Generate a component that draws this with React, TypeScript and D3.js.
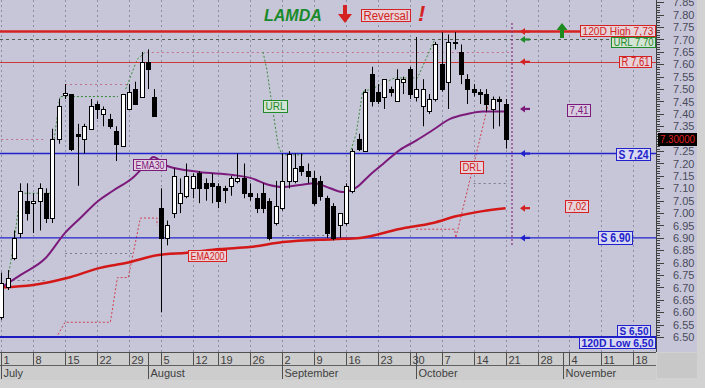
import React from "react";
import * as d3 from "d3";

// ---------- DATA ----------
// trading-day index 0 = 1 July 2019
const opens = [6.58,6.70,6.82,6.92,7.05,7.04,7.05,7.08,6.98,7.30,7.475,7.48,7.32,7.30,7.34,7.44,7.40,7.38,7.33,7.27,7.42,7.50,7.47,7.61,7.47,
  7.02,6.90,7.00,7.04,7.07,7.10,7.16,7.12,7.12,7.11,7.10,7.11,7.13,7.14,7.08,7.06,7.08,7.05,6.96,7.02,7.13,7.13,7.19,7.17,7.14,7.13,7.06,7.03,6.95,6.96,
  7.09,7.30,7.25,7.56,7.49,7.47,7.50,7.45,7.53,7.58,7.47,7.43,7.41,7.46,7.60,7.53,7.69,7.65,7.54,7.50,7.49,7.48,7.42,7.46,7.44];
const highs = [6.76,6.77,6.93,7.12,7.12,7.08,7.12,7.10,7.34,7.46,7.52,7.48,7.36,7.36,7.46,7.45,7.43,7.40,7.35,7.48,7.52,7.53,7.65,7.66,7.50,
  7.10,6.97,7.18,7.14,7.20,7.16,7.17,7.14,7.16,7.12,7.11,7.15,7.24,7.20,7.12,7.08,7.12,7.06,7.13,7.24,7.25,7.24,7.24,7.20,7.17,7.15,7.07,7.04,7.00,7.12,
  7.26,7.32,7.50,7.59,7.52,7.54,7.51,7.58,7.55,7.59,7.71,7.54,7.48,7.69,7.73,7.72,7.73,7.68,7.56,7.52,7.50,7.50,7.47,7.47,7.46];
const lows = [6.57,6.69,6.81,6.90,6.97,6.92,6.93,6.96,6.96,7.28,7.46,7.25,7.11,7.24,7.34,7.38,7.35,7.34,7.21,7.27,7.42,7.44,7.47,7.50,7.39,
  6.60,6.87,6.98,7.00,7.06,7.06,7.04,7.05,7.04,7.02,7.04,7.07,7.12,7.06,7.05,7.00,7.00,6.89,6.95,7.01,7.10,7.12,7.15,7.12,7.03,7.05,6.90,6.89,6.90,6.95,
  7.08,7.25,7.25,7.43,7.44,7.42,7.47,7.45,7.48,7.46,7.45,7.35,7.40,7.45,7.49,7.42,7.66,7.52,7.44,7.47,7.44,7.41,7.34,7.35,7.26];
const closes = [6.72,6.74,6.90,7.09,7.00,7.05,7.10,6.98,7.30,7.43,7.485,7.26,7.31,7.35,7.43,7.42,7.42,7.35,7.28,7.48,7.49,7.44,7.61,7.58,7.39,
  6.90,6.95,7.15,7.08,7.15,7.15,7.10,7.10,7.11,7.05,7.095,7.14,7.14,7.08,7.07,7.02,7.02,6.90,7.03,7.13,7.24,7.18,7.17,7.15,7.04,7.07,6.92,6.90,7.00,7.11,
  7.25,7.26,7.49,7.45,7.45,7.54,7.49,7.54,7.54,7.48,7.50,7.50,7.46,7.68,7.50,7.69,7.69,7.56,7.50,7.49,7.48,7.44,7.46,7.45,7.30];

const ema30Idx = [0,3,7,10,12.4,15,17.5,20.7,23,23.8,26,31,36.3,39,42,44,46.8,49.1,51.5,53.5,55.7,57.7,59.8,62.4,65.1,67.6,70.3,73,75.4,79];
const ema30Val = [6.70,6.75,6.82,6.92,6.98,7.045,7.09,7.145,7.206,7.226,7.19,7.166,7.154,7.142,7.113,7.105,7.113,7.12,7.10,7.085,7.105,7.153,7.198,7.254,7.294,7.335,7.38,7.40,7.41,7.41];
const ema200Idx = [0,5,10.3,15.5,19.7,24.4,29.1,34.3,39,44.1,52,56.2,62.4,67.6,71.4,75.4,79];
const ema200Val = [6.70,6.71,6.738,6.779,6.80,6.83,6.84,6.855,6.863,6.883,6.895,6.90,6.936,6.96,6.988,7.008,7.02];

const urlPathA = [[1,6.73],[2,6.88],[3,7.08],[7.7,7.08],[8.3,7.30],[9.2,7.47],[18.3,7.47]];
const urlPathB = [[19.5,7.50],[21.3,7.62],[22.6,7.65]];
const urlPathC = [[41,7.65],[41.6,7.58],[42.5,7.42],[43.4,7.27],[44,7.235],[47.5,7.235]];
const urlPathD = [[54.6,7.24],[55.6,7.32],[56.6,7.49],[58,7.50],[61.6,7.545],[65.2,7.545],[66.5,7.62],[67.9,7.70]];
const drlPathA = [[8.9,6.51],[10,6.56],[17.1,6.56],[18.2,6.74],[19.9,6.74],[21.8,6.98],[24.4,6.98],[24.4,6.95]];
const drlPathB = [[65,6.935],[71,6.935],[71.2,6.90],[76.2,7.43]];
const pinkDotStart = [0,10,22.8];
const pinkDotEnd = [7,20,80];
const pinkDotVal = [7.30,7.52,7.65];
const grayDotStart = [1,10,44,74];
const grayDotEnd = [7,20.5,52,79.5];
const grayDotVal = [6.73,6.84,6.91,7.12];

const tickIdx = [0,5,10,15,20,25,30,34,39,44,49,54,59,64,69,74,79,84,89,94,99];
const tickLabels = ["1","8","15","22","29","5","12","19","26","2","9","16","23","30","7","14","21","28","4","11","18"];
const monthIdx = [0,23,44,65,88];
const monthLabels = ["July","August","September","October","November"];
const priceTickLabels = ["7.85","7.80","7.75","7.70","7.65","7.60","7.55","7.50","7.45","7.40","7.35","7.30","7.25","7.20","7.15","7.10","7.05","7.00","6.95","6.90","6.85","6.80","6.75","6.70","6.65","6.60","6.55","6.50"];
const minorTickVals = d3.range(650, 786).map((v) => v / 100);

const lastPrice = 7.30;
const todayIdx = 80;

// ---------- LAYOUT ----------
const W = 705, H = 388;
const PR = 656; // plot right
const PB = 352; // plot bottom
const FONT = "'Liberation Sans', Arial, sans-serif";

const x = d3.scaleLinear().domain([0, 100]).range([1.2, 639.7]);
const y = d3.scaleLinear().domain([7.85, 6.5]).range([2.3, 337.1]);

const RED = "#d42222";
const BLUE = "#2222cc";
const GREEN = "#1f8a2a";
const PURPLE = "#7c1a7c";

const lineGen = d3.line<number[]>().x((d) => x(d[0])).y((d) => y(d[1]));
const curveGen = d3.line<number[]>().x((d) => x(d[0])).y((d) => y(d[1])).curve(d3.curveMonotoneX);

function LabelBox({ x0, x1, cy, h = 12, text, color, fill, bold = false, size = 11 }: any) {
  const top = Math.round(cy - h / 2);
  return (
    <g>
      <rect x={x0 + 0.5} y={top + 0.5} width={x1 - x0 - 1} height={h - 1} fill={fill} stroke={color} strokeWidth={1} />
      <text x={(x0 + x1) / 2} y={top + h / 2 + size * 0.36} textAnchor="middle" fontFamily={FONT} fontSize={size}
        fontWeight={bold ? "bold" : "normal"} fill={color} textLength={x1 - x0 - 5} lengthAdjust="spacingAndGlyphs">{text}</text>
    </g>
  );
}

function LeftArrow({ cx, cy, color }: any) {
  return (
    <g>
      <line x1={cx - 2} x2={cx + 5} y1={cy} y2={cy} stroke={color} strokeWidth={2.2} />
      <path d={`M${cx - 5},${cy} L${cx},${cy - 3.5} L${cx},${cy + 3.5} Z`} fill={color} />
    </g>
  );
}

export default function App() {
  const n = closes.length;
  const candles = d3.range(n).map((i) => {
    const r = Math.round(x(i));
    const o = opens[i], c = closes[i];
    const up = c >= o;
    const yTop = Math.round(y(Math.max(o, c)));
    const yBot = Math.round(y(Math.min(o, c)));
    const hgt = Math.max(1, yBot - yTop);
    return (
      <g key={i}>
        <line x1={r + 0.5} x2={r + 0.5} y1={y(highs[i])} y2={y(lows[i])} stroke="#000" strokeWidth={1} />
        <rect x={r - 1.5} y={yTop + 0.5} width={4} height={hgt} fill={up ? "#fff" : "#000"} stroke="#000" strokeWidth={1} />
      </g>
    );
  });

  const ema30 = ema30Idx.map((v, i) => [v, ema30Val[i]]);
  const ema200 = ema200Idx.map((v, i) => [v, ema200Val[i]]);
  const lastLabel = lastPrice.toFixed(2);

  return (
    <svg width={W} height={H} style={{ position: "absolute", left: 0, top: 0, display: "block" }} xmlns="http://www.w3.org/2000/svg">
      <defs>
        <clipPath id="plot"><rect x={0} y={0} width={PR} height={PB} /></clipPath>
      </defs>
      <rect x={0} y={0} width={W} height={H} fill="#d2d2d2" />
      <rect x={0} y={0} width={697} height={PB} fill="#c6c6d8" />
      <rect x={0} y={PB} width={PR} height={28} fill="#cdcdcd" />
      <rect x={657} y={353} width={40} height={25} fill="#c8c8c8" />

      {/* vertical grid */}
      {tickIdx.map((t, k) => (
        <line key={k} x1={Math.round(x(t)) + 0.5} x2={Math.round(x(t)) + 0.5} y1={0} y2={PB} stroke="#8f8fa3" strokeWidth={1} strokeDasharray="2,3" />
      ))}

      <g clipPath="url(#plot)">
        {/* dotted level segments */}
        {pinkDotVal.map((v, k) => (
          <line key={"p" + k} x1={x(pinkDotStart[k])} x2={x(pinkDotEnd[k])} y1={Math.round(y(v)) + 0.5} y2={Math.round(y(v)) + 0.5} stroke="#c0708c" strokeWidth={1} strokeDasharray="2,3" />
        ))}
        {grayDotVal.map((v, k) => (
          <line key={"g" + k} x1={x(grayDotStart[k])} x2={x(grayDotEnd[k])} y1={Math.round(y(v)) + 0.5} y2={Math.round(y(v)) + 0.5} stroke="#7a7a8a" strokeWidth={1} strokeDasharray="2,3" />
        ))}
        {[drlPathA, drlPathB].map((p, k) => (
          <path key={"d" + k} d={lineGen(p as any) || ""} fill="none" stroke="#d04050" strokeWidth={1} strokeDasharray="2,2" />
        ))}
        {[urlPathA, urlPathB, urlPathC, urlPathD].map((p, k) => (
          <path key={"u" + k} d={lineGen(p as any) || ""} fill="none" stroke="#3a8a3a" strokeWidth={1} strokeDasharray="2,2" />
        ))}

        {/* horizontal levels */}
        <line x1={0} x2={PR} y1={y(7.70)} y2={y(7.70)} stroke="#4f5f4f" strokeWidth={1} strokeDasharray="3,3" />
        <line x1={0} x2={PR} y1={y(7.73) - 0.5} y2={y(7.73) - 0.5} stroke={RED} strokeWidth={2.5} />
        <line x1={0} x2={PR} y1={Math.round(y(7.61)) + 0.5} y2={Math.round(y(7.61)) + 0.5} stroke="#d03838" strokeWidth={1.2} />
        <line x1={0} x2={PR} y1={y(7.24)} y2={y(7.24)} stroke={BLUE} strokeWidth={1.5} />
        <line x1={0} x2={PR} y1={y(6.90)} y2={y(6.90)} stroke={BLUE} strokeWidth={1.3} />
        <line x1={0} x2={PR} y1={y(6.50)} y2={y(6.50)} stroke="#1c1cc0" strokeWidth={2} />

        {/* today marker */}
        <line x1={x(todayIdx)} x2={x(todayIdx)} y1={23} y2={245} stroke="#8a3a8a" strokeWidth={1.3} strokeDasharray="2,2" />

        {/* EMAs */}
        <path d={curveGen(ema200 as any) || ""} fill="none" stroke="#d41818" strokeWidth={2.5} />
        <path d={curveGen(ema30 as any) || ""} fill="none" stroke={PURPLE} strokeWidth={2} />

        {candles}
      </g>

      {/* arrows */}
      <LeftArrow cx={525} cy={y(7.73) - 0.5} color={RED} />
      <LeftArrow cx={525} cy={y(7.70)} color={GREEN} />
      <LeftArrow cx={525} cy={y(7.61)} color={RED} />
      <LeftArrow cx={525} cy={y(7.42)} color={PURPLE} />
      <LeftArrow cx={525} cy={y(7.24)} color={BLUE} />
      <LeftArrow cx={525} cy={y(7.02)} color={RED} />
      <LeftArrow cx={525} cy={y(6.90)} color={BLUE} />

      {/* green up arrow */}
      <path d="M562,23 L567.5,30 L564,30 L564,38 L560,38 L560,30 L556.5,30 Z" fill="#1c8a1c" />

      {/* level labels */}
      <LabelBox x0={580} x1={656} cy={31} h={12} text="120D High 7,73" color={RED} fill="#e6d2d8" size={11} />
      <LabelBox x0={611} x1={656} cy={42} h={11} text="URL 7.70" color={GREEN} fill="#d4e4d4" size={10} />
      <LabelBox x0={619} x1={652} cy={62} h={12} text="R 7,61" color={RED} fill="#e6d2d8" size={12} />
      <LabelBox x0={567} x1={591} cy={110} h={13} text="7,41" color={PURPLE} fill="#d8cce0" size={11} />
      <LabelBox x0={616} x1={651} cy={154.5} h={13} text="S 7,24" color={BLUE} fill="#d8d8f0" bold size={12} />
      <LabelBox x0={565} x1={589} cy={206.5} h={13} text="7,02" color={RED} fill="#e6d2d8" size={11} />
      <LabelBox x0={598} x1={633} cy={237.5} h={14} text="S 6.90" color={BLUE} fill="#d8d8f0" bold size={12} />
      <LabelBox x0={617} x1={651} cy={331} h={12} text="S 6,50" color={BLUE} fill="#d8d8f0" bold size={11} />
      <LabelBox x0={579} x1={656} cy={343} h={12} text="120D Low 6,50" color={BLUE} fill="#d8d8f0" bold size={11} />

      {/* indicator labels */}
      <LabelBox x0={263} x1={288} cy={106.5} h={13} text="URL" color={GREEN} fill="#d4e4d4" size={11} />
      <LabelBox x0={460} x1={484} cy={167} h={13} text="DRL" color={RED} fill="#e6d2d8" size={11} />
      <LabelBox x0={133} x1={167} cy={165} h={12} text="EMA30" color={PURPLE} fill="#e2d0e2" size={11} />
      <LabelBox x0={188} x1={227} cy={256} h={12} text="EMA200" color={RED} fill="#ecd0d4" size={11} />

      {/* title annotations */}
      <text x={264} y={21} fontFamily={FONT} fontSize={16} fontWeight="bold" fontStyle="italic" fill="#1a8a2a">LAMDA</text>
      <path d="M343,5 L347,5 L347,14 L352,14 L345,23 L338,14 L343,14 Z" fill={RED} />
      <LabelBox x0={361} x1={411} cy={15.5} h={13} text="Reversal" color={RED} fill="#e6d2d8" size={12} />
      <text x={418} y={21} fontFamily={FONT} fontSize={22} fontWeight="bold" fontStyle="italic" fill={RED}>!</text>

      {/* price axis */}
      <line x1={PR + 0.5} x2={PR + 0.5} y1={0} y2={PB} stroke="#404040" strokeWidth={1} />
      {minorTickVals.map((v, k) => (
        <line key={k} x1={PR} x2={PR + 4} y1={Math.round(y(v)) + 0.5} y2={Math.round(y(v)) + 0.5} stroke="#404040" strokeWidth={1} />
      ))}
      {priceTickLabels.map((t) => (
        <g key={t}>
          <line x1={PR} x2={PR + 8} y1={Math.round(y(+t)) + 0.5} y2={Math.round(y(+t)) + 0.5} stroke="#404040" strokeWidth={1} />
          {t !== lastLabel && (
            <text x={673} y={y(+t) + 4} fontFamily={FONT} fontSize={11} fill="#4a4a5a">{t}</text>
          )}
        </g>
      ))}
      <rect x={658} y={133} width={39} height={13} fill="#000" />
      <text x={677.5} y={143} textAnchor="middle" fontFamily={FONT} fontSize={10} fill="#e02020" textLength={35} lengthAdjust="spacingAndGlyphs">{lastPrice.toFixed(5)}</text>

      {/* date axis */}
      <line x1={0} x2={PR} y1={PB + 0.5} y2={PB + 0.5} stroke="#505050" strokeWidth={1} />
      <line x1={0} x2={PR} y1={365.5} y2={365.5} stroke="#606060" strokeWidth={1} />
      {tickIdx.map((t, k) => {
        const r = Math.round(x(t)) + 0.5;
        return (
          <g key={k}>
            <line x1={r} x2={r} y1={PB} y2={365} stroke="#505050" strokeWidth={1} />
            <text x={r + 2} y={363.5} fontFamily={FONT} fontSize={11} fill="#404040">{tickLabels[k]}</text>
          </g>
        );
      })}
      {monthIdx.map((t, k) => {
        const r = Math.round(x(t)) + 0.5;
        return (
          <g key={k}>
            <line x1={r} x2={r} y1={PB} y2={379} stroke="#505050" strokeWidth={1} />
            <text x={r + 2} y={377} fontFamily={FONT} fontSize={11} fill="#404040">{monthLabels[k]}</text>
          </g>
        );
      })}
    </svg>
  );
}
